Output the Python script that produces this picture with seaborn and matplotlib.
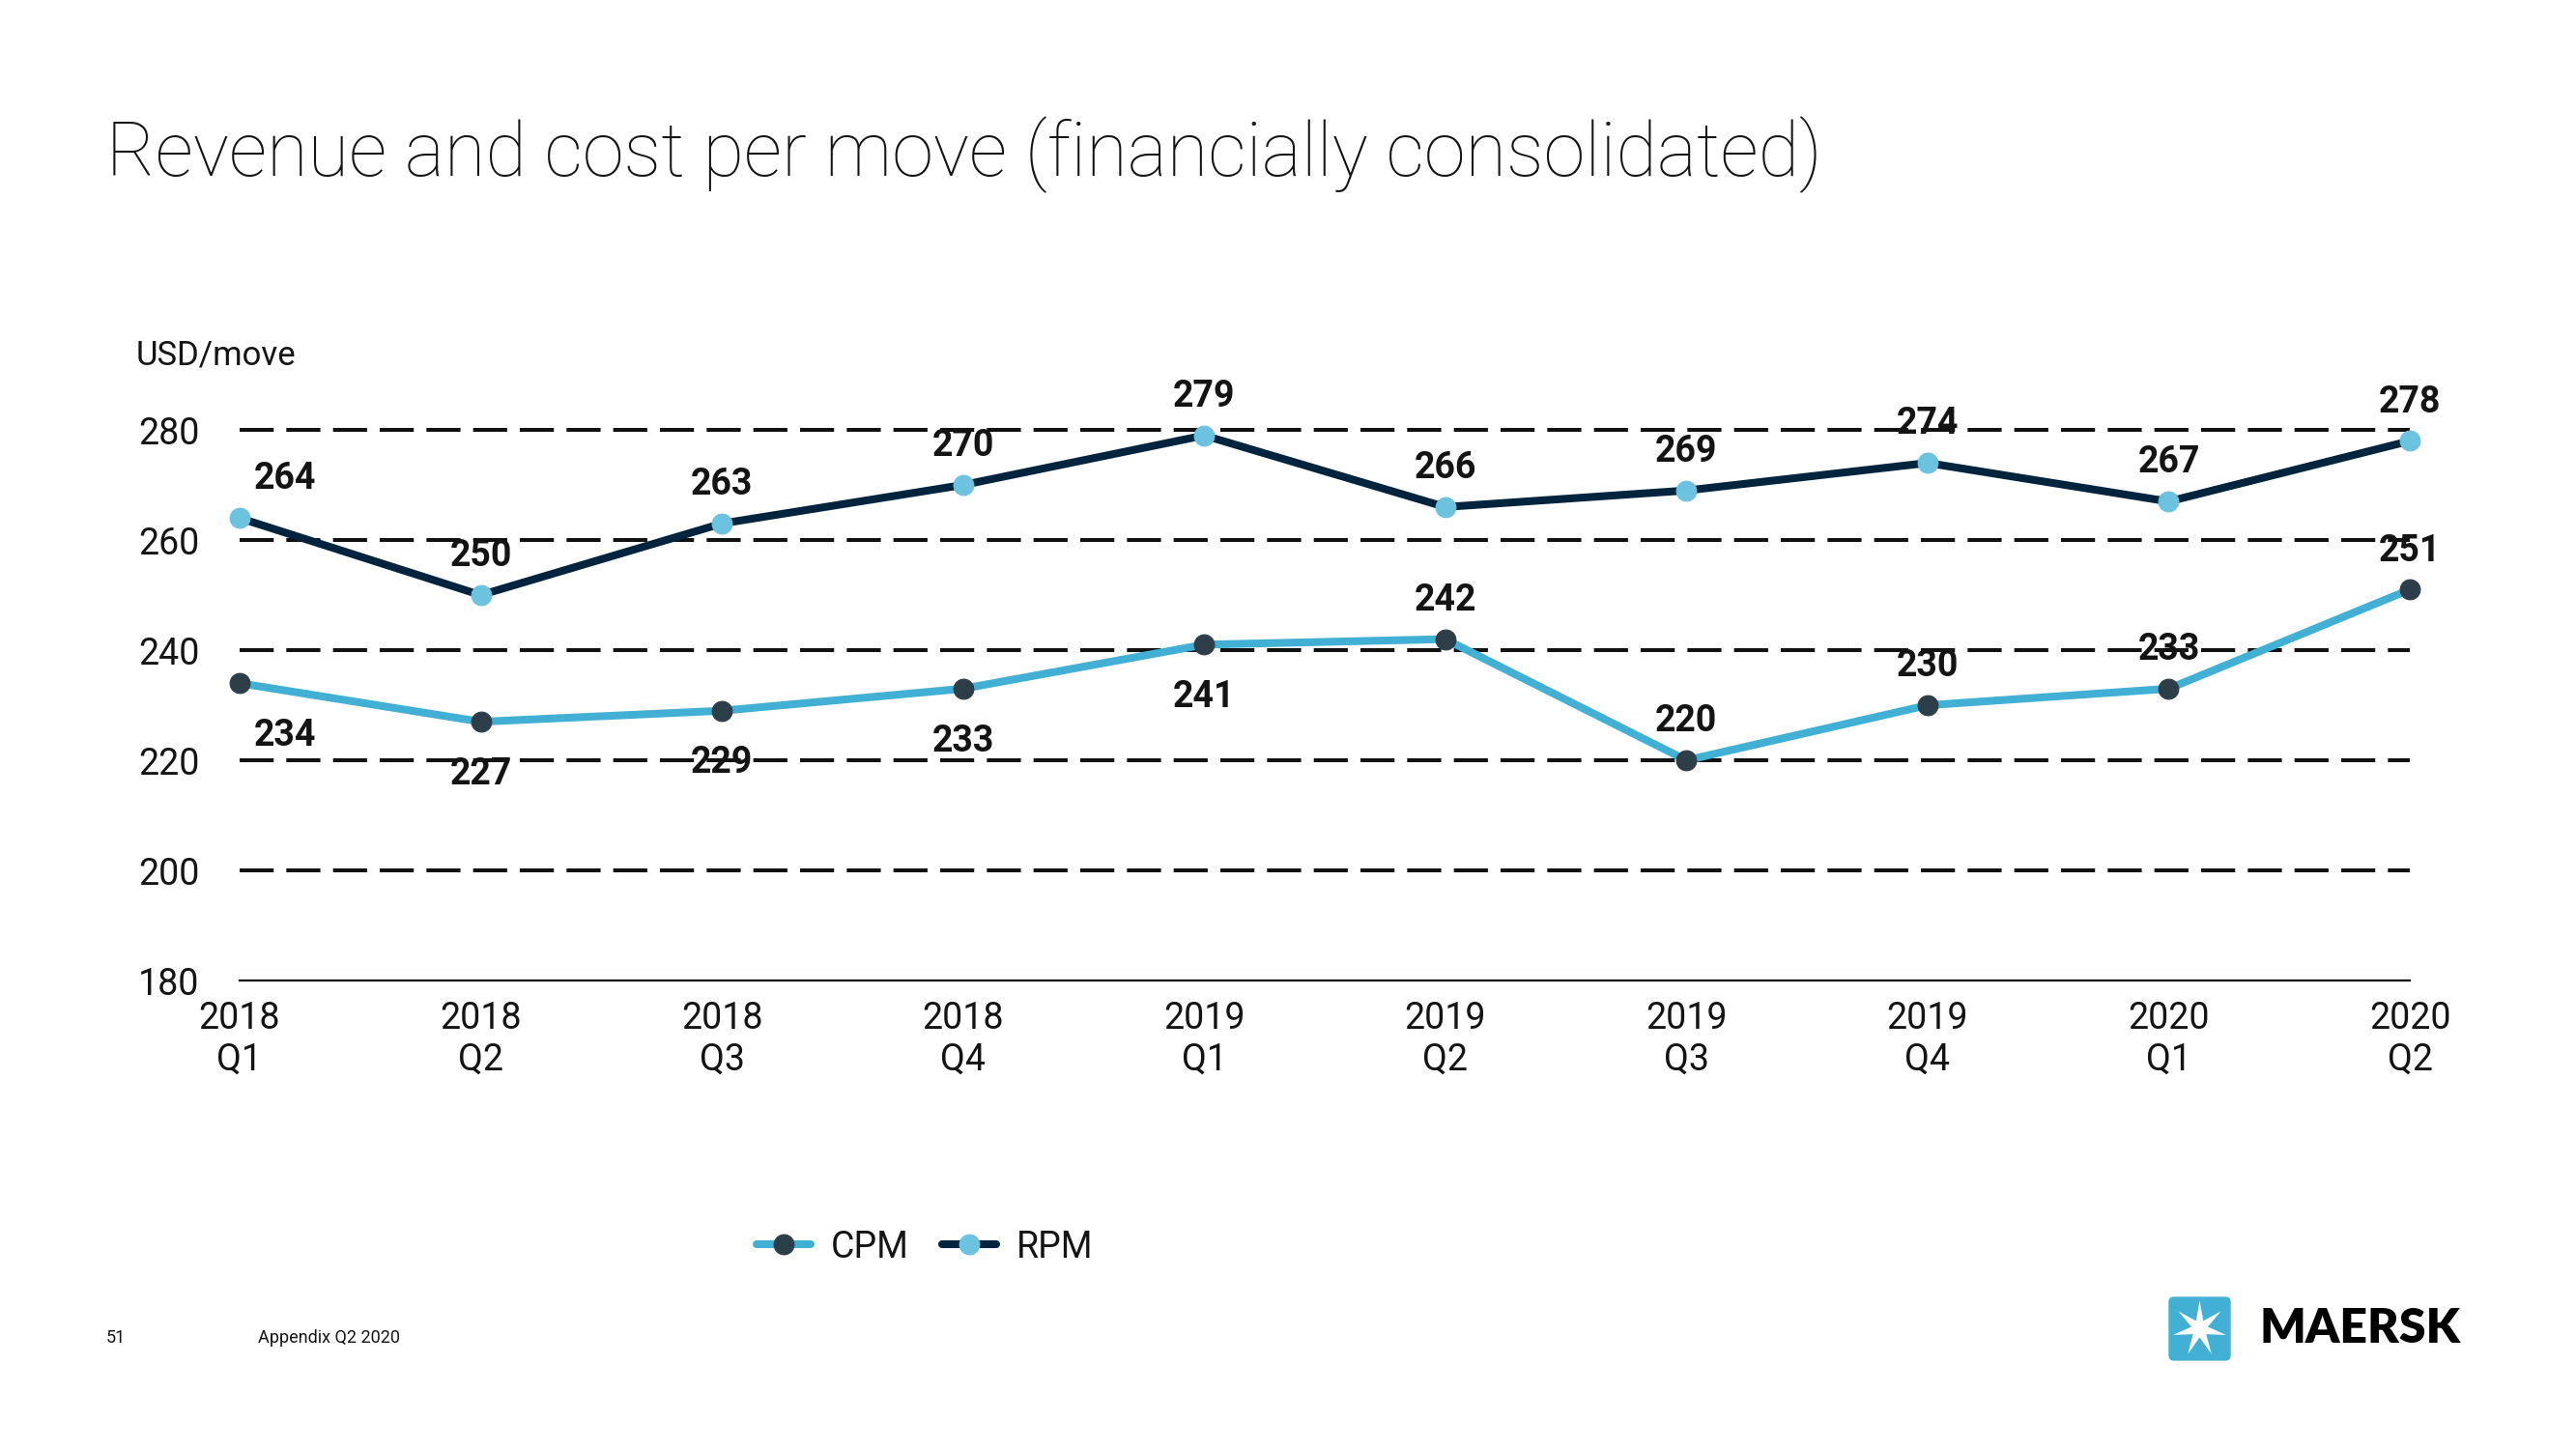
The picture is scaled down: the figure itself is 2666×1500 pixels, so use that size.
import numpy as np
import pandas as pd
import matplotlib.pyplot as plt
import seaborn as sns
from matplotlib.patches import FancyBboxPatch, Polygon

# ------------------------------------------------------------------------------
# DATA
# ------------------------------------------------------------------------------
quarters = ['2018\nQ1', '2018\nQ2', '2018\nQ3', '2018\nQ4', '2019\nQ1',
            '2019\nQ2', '2019\nQ3', '2019\nQ4', '2020\nQ1', '2020\nQ2']
cpm = [234, 227, 229, 233, 241, 242, 220, 230, 233, 251]
rpm = [264, 250, 263, 270, 279, 266, 269, 274, 267, 278]
# label placement for CPM: below (-1) or above (+1) the point
cpm_side = [-1, -1, -1, -1, -1, 1, 1, 1, 1, 1]
y_ticks = [180, 200, 220, 240, 260, 280]

df = pd.DataFrame({'idx': range(len(quarters)), 'CPM': cpm, 'RPM': rpm})

# ------------------------------------------------------------------------------
# STYLE
# ------------------------------------------------------------------------------
sns.set_theme(style="white")
plt.rcParams['font.family'] = ['Roboto', 'DejaVu Sans']

LIGHT = '#42B0D5'
NAVY = '#00243D'
DARK_MK = '#2E3E48'
LIGHT_MK = '#6CC3DF'
TXT = '#141414'

fig = plt.figure(figsize=(26.66, 15), dpi=100)
ax = fig.add_axes([0.093, 0.3233, 0.8425, 0.38])

# grid lines
for yv in y_ticks[1:]:
    ax.axhline(yv, color='#111111', lw=2.9, ls=(0, (8.75, 3.25)), zorder=1,
               clip_on=False)

sns.lineplot(data=df, x='idx', y='CPM', ax=ax, color=LIGHT, lw=5.8,
             marker='o', markersize=15, markerfacecolor=DARK_MK,
             markeredgecolor=DARK_MK, label='CPM', zorder=3, clip_on=False)
sns.lineplot(data=df, x='idx', y='RPM', ax=ax, color=NAVY, lw=5.8,
             marker='o', markersize=15, markerfacecolor=LIGHT_MK,
             markeredgecolor=LIGHT_MK, label='RPM', zorder=3, clip_on=False)

ax.set_xlim(0, 9)
ax.set_ylim(180, 280)
ax.set_xticks(range(len(quarters)))
ax.set_xticklabels(quarters, fontsize=27, color=TXT, linespacing=1.2)
ax.set_yticks(y_ticks)
ax.set_yticklabels([str(v) for v in y_ticks], fontsize=27, color=TXT)
ax.tick_params(axis='x', length=0, pad=15)
ax.tick_params(axis='y', length=0, pad=30)
ax.set_xlabel('')
ax.set_ylabel('')
for s in ['top', 'right', 'left']:
    ax.spines[s].set_visible(False)
ax.spines['bottom'].set_color('black')
ax.spines['bottom'].set_linewidth(1.6)

# data labels
for i, v in enumerate(rpm):
    dx = 34 if i == 0 else 0
    ax.annotate(str(v), (i, v), xytext=(dx, 29), textcoords='offset points',
                ha='center', va='center', fontsize=27, fontweight='bold',
                color=TXT, annotation_clip=False, zorder=5)
for i, v in enumerate(cpm):
    dx = 34 if i == 0 else 0
    dy = 29 if cpm_side[i] > 0 else -39
    ax.annotate(str(v), (i, v), xytext=(dx, dy), textcoords='offset points',
                ha='center', va='center', fontsize=27, fontweight='bold',
                color=TXT, annotation_clip=False, zorder=5)

ax.legend(loc='center', bbox_to_anchor=(0.359, 0.1393),
          bbox_transform=fig.transFigure, ncol=2, frameon=False,
          fontsize=27, handlelength=1.5, handletextpad=0.55,
          columnspacing=0.9, labelcolor=TXT)

# titles and footer
fig.text(0.0413, 0.893, 'Revenue and cost per move (financially consolidated)',
         fontsize=55.9, fontweight='light', color=TXT, va='center', ha='left')
fig.text(0.0529, 0.755, 'USD/move', fontsize=25, color=TXT,
         va='center', ha='left')
fig.text(0.041, 0.0767, '51', fontsize=13, color=TXT, va='center')
fig.text(0.1, 0.0767, 'Appendix Q2 2020', fontsize=13, color=TXT, va='center')

# Maersk logo
lax = fig.add_axes([2243 / 2666, 1 - 1410 / 1500, 67 / 2666, 69 / 1500])
lax.set_xlim(0, 1)
lax.set_ylim(0, 1)
lax.axis('off')
lax.add_patch(FancyBboxPatch((0.02, 0.02), 0.96, 0.96,
                             boxstyle='round,pad=0,rounding_size=0.08',
                             fc=LIGHT, ec='none'))
ang = np.pi / 2 + np.arange(14) * np.pi / 7
rad = np.where(np.arange(14) % 2 == 0, 0.42, 0.13)
star = np.column_stack([0.5 + rad * np.cos(ang), 0.5 + rad * np.sin(ang)])
lax.add_patch(Polygon(star, closed=True, fc='white', ec='none'))
fig.text(2338 / 2666, 1 - 1376 / 1500, 'MAERSK', fontsize=36,
         fontfamily=['Lato', 'DejaVu Sans'], fontweight='heavy',
         color='black', va='center', ha='left')

fig.savefig('out.png', dpi=100, facecolor='white')
